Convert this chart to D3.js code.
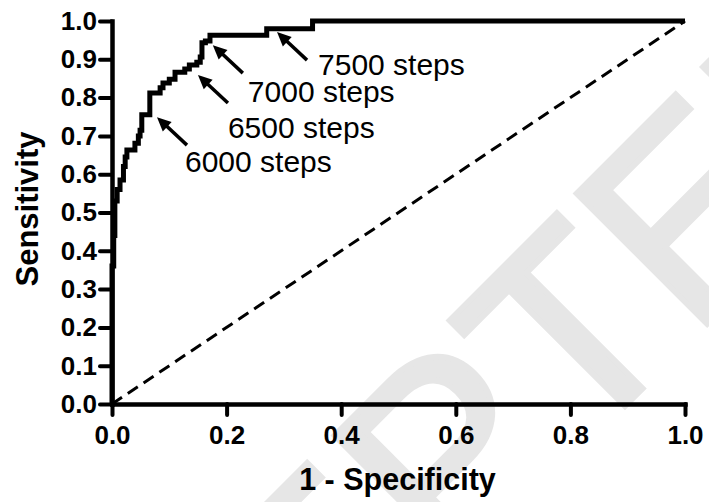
<!DOCTYPE html>
<html>
<head>
<meta charset="utf-8">
<script src="https://cdn.jsdelivr.net/npm/d3@7"></script>
<style>
  body { margin: 0; background: #fff; }
  text { font-family: "Liberation Sans", Arial, sans-serif; }
</style>
</head>
<body>
<div id="vis"></div>
<script>
const WIDTH = 709;
const HEIGHT = 502;

// ROC curve corners (1 - specificity, sensitivity)
const fpr = [0, 0, 0.003, 0.005, 0.009, 0.014, 0.020, 0.023, 0.026, 0.040, 0.046, 0.049, 0.052,
             0.066, 0.084, 0.089, 0.100, 0.110, 0.127, 0.135, 0.148, 0.154, 0.157, 0.163, 0.171,
             0.270, 0.350, 1.0];
const tpr = [0, 0.36, 0.44, 0.53, 0.56, 0.585, 0.62, 0.645, 0.663, 0.681, 0.70, 0.715, 0.755,
             0.812, 0.826, 0.838, 0.848, 0.866, 0.875, 0.885, 0.892, 0.906, 0.943, 0.948, 0.963,
             0.98, 1.0, 1.0];

// cut-off annotations and the point each arrow points at
const cutLabels = ["6000 steps", "6500 steps", "7000 steps", "7500 steps"];
const cutFpr = [0.0785, 0.150, 0.176, 0.288];
const cutTpr = [0.749, 0.859, 0.937, 0.971];

const xTicks = [0, 0.2, 0.4, 0.6, 0.8, 1.0];
const yTicks = [0, 0.1, 0.2, 0.3, 0.4, 0.5, 0.6, 0.7, 0.8, 0.9, 1.0];

const watermark = "ACCEPTED MANUSCRIPT";

// label offsets from arrow tip (pixels)
const labelOffset = [[28, 55], [30, 63], [35, 57], [41, 43]];
const arrowVec = [30, 28];

const margin = { top: 21, right: 24, bottom: 98, left: 112 };
const w = WIDTH - margin.left - margin.right;
const h = HEIGHT - margin.top - margin.bottom;

const SVG = d3.select("#vis").append("svg")
    .attr("width", WIDTH).attr("height", HEIGHT)
    .style("background", "#fff");

// light grey watermark behind everything, clipped to the page
SVG.append("clipPath").attr("id", "page")
    .append("rect").attr("width", WIDTH).attr("height", HEIGHT);

SVG.append("g").attr("clip-path", "url(#page)")
    .append("text")
    .attr("transform", "translate(-77,1108) rotate(-45)")
    .attr("font-size", 268)
    .attr("fill", "#e6e6e6")
    .attr("stroke", "#e6e6e6")
    .attr("stroke-width", 6)
    .text(watermark);

const x = d3.scaleLinear().domain([0, 1]).range([0, w]);
const y = d3.scaleLinear().domain([0, 1]).range([h, 0]);

const g = SVG.append("g").attr("transform", "translate(" + margin.left + "," + margin.top + ")");

// chance line
g.append("line")
    .attr("x1", x(0)).attr("y1", y(0))
    .attr("x2", x(1)).attr("y2", y(1))
    .attr("stroke", "#000")
    .attr("stroke-width", 3)
    .attr("stroke-dasharray", "12,7");

// ROC curve
const pts = fpr.map((d, i) => [d, tpr[i]]);
const line = d3.line()
    .x(d => x(d[0]))
    .y(d => y(d[1]))
    .curve(d3.curveStepAfter);

g.append("path")
    .datum(pts)
    .attr("d", line)
    .attr("fill", "none")
    .attr("stroke", "#000")
    .attr("stroke-width", 5)
    .attr("stroke-linejoin", "miter");

// axes
const ejeX = d3.axisBottom(x).tickValues(xTicks).tickFormat(d3.format(".1f"))
    .tickSize(11).tickSizeOuter(0).tickPadding(11);
const ejeY = d3.axisLeft(y).tickValues(yTicks).tickFormat(d3.format(".1f"))
    .tickSize(12).tickSizeOuter(0).tickPadding(3);

const gx = g.append("g").attr("transform", "translate(0," + h + ")").call(ejeX);
const gy = g.append("g").call(ejeY);

[gx, gy].forEach(ax => {
    ax.select(".domain").attr("stroke-width", 4.5).attr("stroke-linecap", "square");
    ax.selectAll(".tick line").attr("stroke-width", 4).attr("stroke-linecap", "round");
    ax.selectAll(".tick text")
        .attr("font-family", "Liberation Sans, Arial, sans-serif")
        .attr("font-size", 26)
        .attr("font-weight", "bold")
        .attr("fill", "#000");
});

// axis titles
SVG.append("text")
    .attr("x", margin.left + w / 2 - 1)
    .attr("y", 490)
    .attr("text-anchor", "middle")
    .attr("font-size", 30.5)
    .attr("font-weight", "bold")
    .text("1 - Specificity");

SVG.append("text")
    .attr("transform", "translate(38," + 209 + ") rotate(-90)")
    .attr("text-anchor", "middle")
    .attr("font-size", 31)
    .attr("font-weight", "bold")
    .text("Sensitivity");

// arrows with labels
const ann = g.append("g");
cutLabels.forEach((lab, i) => {
    const tx = x(cutFpr[i]);
    const ty = y(cutTpr[i]);
    const ex = tx + arrowVec[0];
    const ey = ty + arrowVec[1];
    const len = Math.hypot(arrowVec[0], arrowVec[1]);
    const ux = arrowVec[0] / len, uy = arrowVec[1] / len;
    const headL = 14, headW = 6.5;
    const bx = tx + ux * headL, by = ty + uy * headL;

    ann.append("line")
        .attr("x1", bx - ux * 2).attr("y1", by - uy * 2)
        .attr("x2", ex).attr("y2", ey)
        .attr("stroke", "#000")
        .attr("stroke-width", 3.5);

    ann.append("path")
        .attr("d", "M" + tx + "," + ty +
            "L" + (bx - uy * headW) + "," + (by + ux * headW) +
            "L" + (bx + uy * headW) + "," + (by - ux * headW) + "Z")
        .attr("fill", "#000");

    ann.append("text")
        .attr("x", tx + labelOffset[i][0])
        .attr("y", ty + labelOffset[i][1])
        .attr("font-size", 30)
        .attr("fill", "#000")
        .text(lab);
});
</script>
</body>
</html>
